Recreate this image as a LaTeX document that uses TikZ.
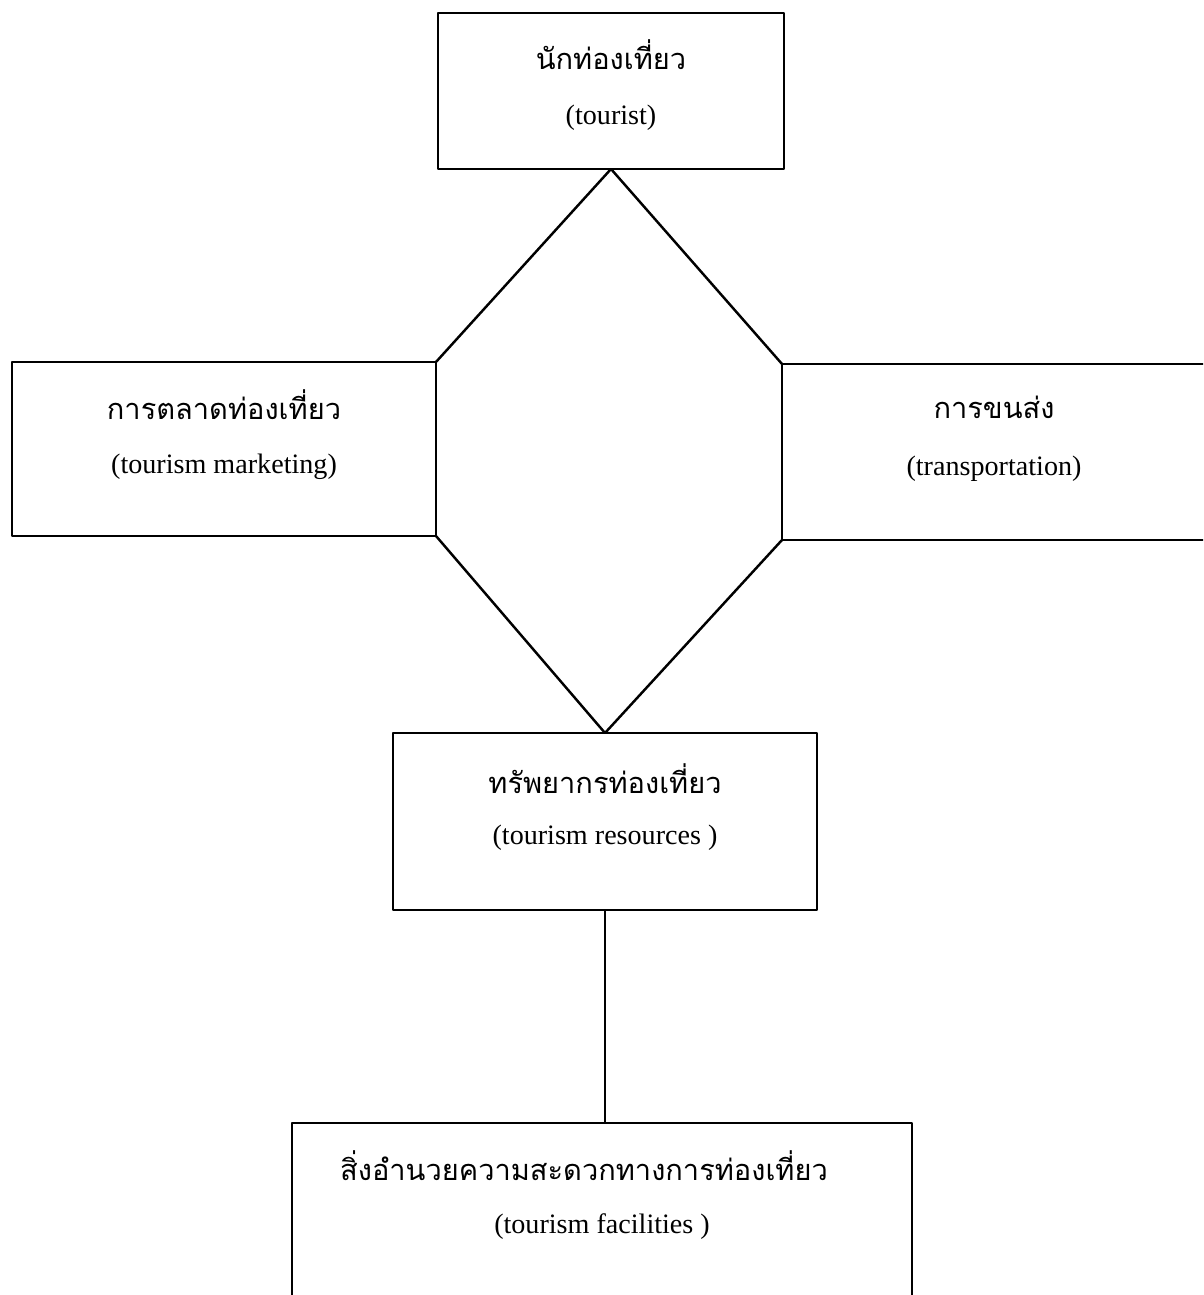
\documentclass[tikz,border=0pt]{standalone}
\usepackage{fontspec}
\setmainfont{Liberation Serif}
\newfontfamily\thaifont[Script=Thai]{Loma}
\usetikzlibrary{positioning}

\begin{document}
\begin{tikzpicture}[line join=round,
  box/.style={draw, line width=1.5pt, inner sep=0pt, outer sep=0pt, minimum width=8.48cm},
  thai/.style={font=\thaifont\fontsize{16.5}{19}\selectfont},
  eng/.style={font=\fontsize{16}{19}\selectfont},
  link/.style={line width=1.4pt}]

\useasboundingbox (0,0) rectangle (24.06,25.9);
\clip (0,0) rectangle (24.06,25.9);

% boxes
\node[box, minimum width=6.92cm, minimum height=3.12cm] (tourist) at (12.22,24.08) {};
\node[box, minimum height=3.48cm] (marketing) at (4.48,16.92) {};
\node[box, minimum height=3.52cm] (transport) at (19.88,16.86) {};
\node[box, minimum height=3.54cm] (resources) at (12.10,9.47) {};
\node[box, minimum width=12.4cm, minimum height=3.84cm] (facilities) at (12.04,1.52) {};

% labels
\node[thai] (tourist-th) at ([yshift=-.84cm]tourist.north) {นักท่องเที่ยว};
\node[eng] (tourist-en) at ([yshift=-2.1cm]tourist.north) {(tourist)};

\node[thai] (marketing-th) at ([yshift=-.86cm]marketing.north) {การตลาดท่องเที่ยว};
\node[eng] (marketing-en) at ([yshift=-2.1cm]marketing.north) {(tourism marketing)};

\node[thai] (transport-th) at ([yshift=-.86cm]transport.north) {การขนส่ง};
\node[eng] (transport-en) at ([yshift=-2.1cm]transport.north) {(transportation)};

\node[thai] (resources-th) at ([yshift=-.92cm]resources.north) {ทรัพยากรท่องเที่ยว};
\node[eng] (resources-en) at ([yshift=-2.1cm]resources.north) {(tourism resources )};

\node[thai] (facilities-th) at ([xshift=-.36cm,yshift=-.86cm]facilities.north) {สิ่งอำนวยความสะดวกทางการท่องเที่ยว};
\node[eng] (facilities-en) at ([yshift=-2.08cm]facilities.north) {(tourism facilities )};

% connectors
\draw[link] (tourist.south) -- (marketing.north east);
\draw[link] (marketing.south east) -- (resources.north);
\draw[link] (tourist.south) -- (transport.north west);
\draw[link] (transport.south west) -- (resources.north);
\draw[link] (resources.south) -- (resources.south |- facilities.north);

\end{tikzpicture}
\end{document}
